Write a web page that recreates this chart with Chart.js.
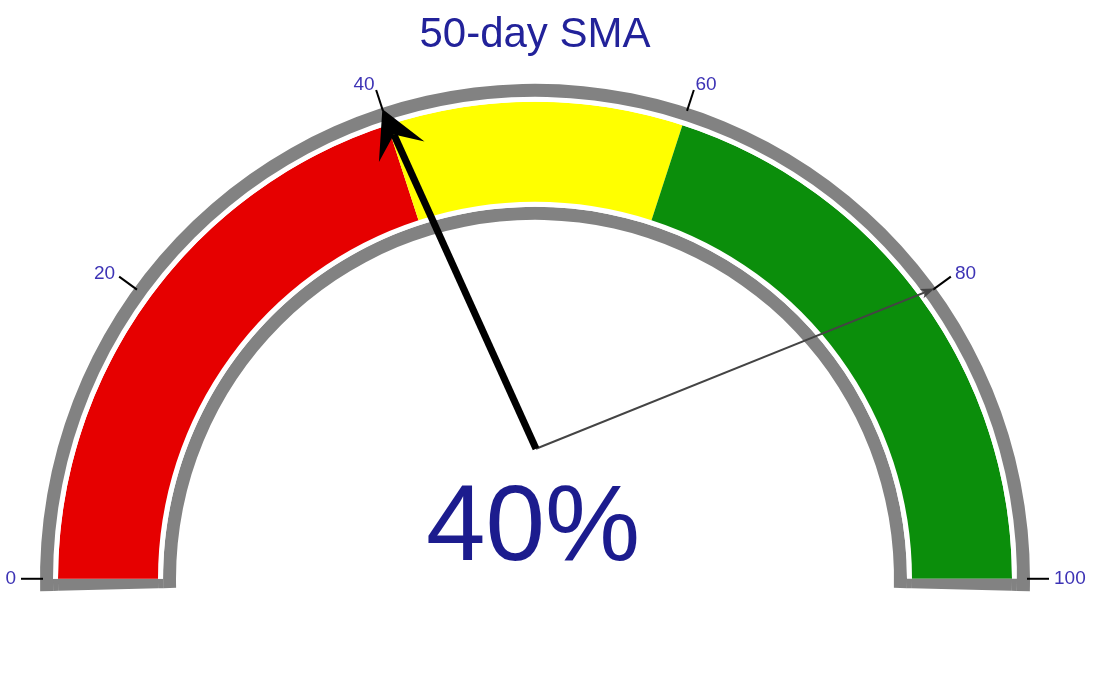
<!DOCTYPE html>
<html>
<head>
<meta charset="utf-8">
<script src="https://cdn.jsdelivr.net/npm/chart.js@4/dist/chart.umd.min.js"></script>
<style>
  html, body { margin: 0; padding: 0; background: #fff; }
  #wrap { width: 1100px; height: 699px; position: relative; }
</style>
</head>
<body>
<div id="wrap"><canvas id="gauge"></canvas></div>
<script>
  'use strict'

  // gauge data
  const titleText = '50-day SMA'
  const scaleMin = 0
  const scaleMax = 100
  const tickValues = [0, 20, 40, 60, 80, 100]
  const bandValues = [40, 20, 40]
  const bandColors = ['#e60000', '#ffff00', '#0b8e0b']
  const gaugeValue = 40
  const markerValue = 80

  const frameGrey = '#828282'
  const endPad = 0.8 // grey bar closing each end of the band, in gauge units
  const span = scaleMax - scaleMin

  const full = span + 2 * endPad

  const gaugePlugin = {
    id: 'gaugeDecor',
    afterDatasetsDraw (chart) {
      const meta = chart.getDatasetMeta(2)
      const first = meta.data[1]
      const last = meta.data[meta.data.length - 2]
      const a0 = first.startAngle
      const a1 = last.endAngle
      const cx = first.x
      const cy = first.y
      const ang = v => a0 + (v - scaleMin) / span * (a1 - a0)
      const pt = (v, r) => ({ x: cx + Math.cos(ang(v)) * r, y: cy + Math.sin(ang(v)) * r })
      const ctx = chart.ctx
      ctx.save()

      // ticks + labels
      ctx.strokeStyle = '#000'
      ctx.lineWidth = 2
      ctx.font = '19px Arial, "Liberation Sans", sans-serif'
      ctx.fillStyle = '#3d33b5'
      ctx.textBaseline = 'middle'
      tickValues.forEach(v => {
        const p1 = pt(v, 492)
        const p2 = pt(v, 514)
        ctx.beginPath()
        ctx.moveTo(p1.x, p1.y)
        ctx.lineTo(p2.x, p2.y)
        ctx.stroke()
        const c = Math.cos(ang(v))
        ctx.textAlign = c < -0.1 ? 'right' : (c > 0.1 ? 'left' : 'center')
        const lp = pt(v, 519)
        ctx.fillText(String(v), lp.x, lp.y)
      })

      // needles
      const pivot = { x: cx + 1, y: cy - 130 }
      const drawNeedle = (v, width, color, headLen, headHalf, notch) => {
        const tip = pt(v, 494)
        let ux = tip.x - pivot.x
        let uy = tip.y - pivot.y
        const len = Math.hypot(ux, uy)
        ux /= len
        uy /= len
        const nx = -uy
        const ny = ux
        ctx.strokeStyle = color
        ctx.fillStyle = color
        ctx.lineWidth = width
        ctx.lineCap = 'butt'
        ctx.beginPath()
        ctx.moveTo(pivot.x, pivot.y)
        ctx.lineTo(tip.x - ux * notch, tip.y - uy * notch)
        ctx.stroke()
        ctx.beginPath()
        ctx.moveTo(tip.x, tip.y)
        ctx.lineTo(tip.x - ux * headLen + nx * headHalf, tip.y - uy * headLen + ny * headHalf)
        ctx.lineTo(tip.x - ux * notch, tip.y - uy * notch)
        ctx.lineTo(tip.x - ux * headLen - nx * headHalf, tip.y - uy * headLen - ny * headHalf)
        ctx.closePath()
        ctx.fill()
      }
      drawNeedle(markerValue, 2, '#444', 14, 5, 10)
      drawNeedle(gaugeValue, 7, '#000', 47, 25, 28)

      // big value readout
      ctx.font = '107px Arial, "Liberation Sans", sans-serif'
      ctx.fillStyle = '#1c1c8e'
      ctx.textAlign = 'center'
      ctx.textBaseline = 'alphabetic'
      ctx.fillText(gaugeValue + '%', cx - 2, cy - 19)
      ctx.restore()
    }
  }

  const ctx = document.getElementById('gauge')
  // eslint-disable-next-line no-unused-vars
  const gauge = new Chart(ctx, {
    type: 'doughnut',
    data: {
      datasets: [
        { data: [full], backgroundColor: [frameGrey], weight: 13 },
        { data: [endPad, span, endPad], backgroundColor: [frameGrey, '#fff', frameGrey], weight: 5 },
        {
          data: [endPad, ...bandValues, endPad],
          backgroundColor: [frameGrey, ...bandColors, frameGrey],
          weight: 100
        },
        { data: [endPad, span, endPad], backgroundColor: [frameGrey, '#fff', frameGrey], weight: 5 },
        { data: [full], backgroundColor: [frameGrey], weight: 13 }
      ]
    },
    options: {
      responsive: true,
      maintainAspectRatio: false,
      animation: false,
      events: [],
      rotation: -90 - 1.8 * endPad,
      circumference: 180 + 3.6 * endPad,
      radius: 495,
      cutout: (359 / 495 * 100) + '%',
      borderWidth: 0,
      layout: { padding: { left: 0, right: 30, top: 0, bottom: 84.4 } },
      plugins: {
        legend: { display: false },
        tooltip: { enabled: false },
        title: {
          display: true,
          text: titleText,
          color: '#22229a',
          font: { family: 'Arial, "Liberation Sans", sans-serif', size: 42, weight: 'normal' },
          padding: { top: 10, bottom: 0 }
        }
      }
    },
    plugins: [gaugePlugin]
  })
</script>
</body>
</html>
